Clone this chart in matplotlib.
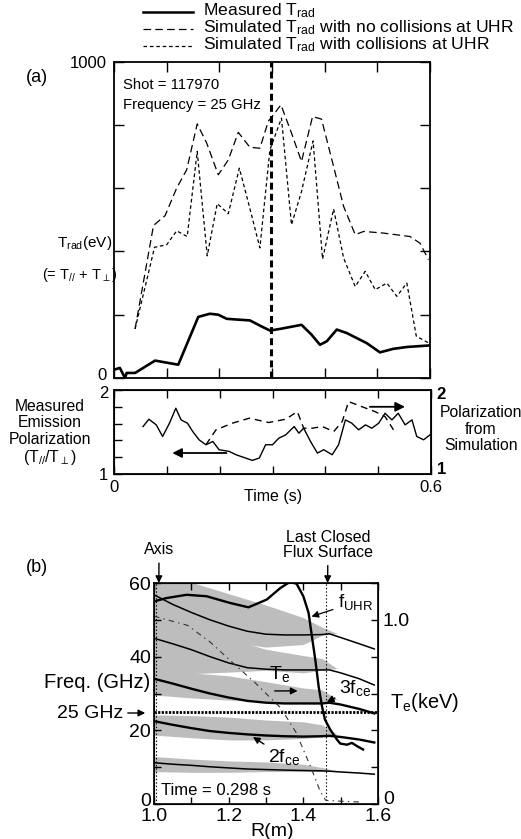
import matplotlib
matplotlib.use('Agg')
import matplotlib.pyplot as plt
import matplotlib.patches as mpatches
import matplotlib.transforms as mtrans
import numpy as np
from matplotlib.lines import Line2D

plt.rcParams['font.family'] = ['Liberation Sans', 'DejaVu Sans']
plt.rcParams['mathtext.fontset'] = 'custom'
plt.rcParams['mathtext.rm'] = 'Liberation Sans'
plt.rcParams['mathtext.it'] = 'Liberation Sans:italic'
plt.rcParams['mathtext.bf'] = 'Liberation Sans:bold'
plt.rcParams['lines.scale_dashes'] = False

# ---------------- data: panel (a) top ----------------
t_meas = [0.0, 0.011, 0.021, 0.024, 0.040, 0.078, 0.122, 0.160, 0.182, 0.198, 0.214,
          0.239, 0.258, 0.280, 0.296, 0.315, 0.356, 0.375, 0.391, 0.404, 0.423, 0.442,
          0.480, 0.505, 0.530, 0.556, 0.600]
trad_meas = [26, 32, 0, 16, 16, 55, 42, 193, 203, 200, 187, 184, 182, 163, 150, 155, 168,
             137, 105, 116, 153, 142, 110, 81, 92, 98, 103]

t_sim = [0.040, 0.075, 0.097, 0.119, 0.138, 0.158, 0.176, 0.198, 0.217, 0.236, 0.258,
         0.277, 0.293, 0.317, 0.337, 0.356, 0.377, 0.394, 0.417, 0.436, 0.458, 0.474,
         0.511, 0.562, 0.581, 0.597]
trad_nocoll = [155, 482, 513, 600, 658, 803, 742, 642, 689, 776, 729, 726, 811, 863, 774,
               684, 826, 818, 668, 542, 453, 463, 458, 447, 426, 374]

t_sim2 = [0.040, 0.077, 0.100, 0.119, 0.139, 0.158, 0.177, 0.196, 0.217, 0.238, 0.257,
          0.277, 0.296, 0.318, 0.337, 0.356, 0.378, 0.396, 0.417, 0.436, 0.458, 0.477,
          0.496, 0.518, 0.537, 0.556, 0.574, 0.597]
trad_coll = [155, 413, 421, 465, 447, 716, 386, 551, 519, 663, 542, 411, 721, 821, 484,
             589, 749, 376, 534, 379, 289, 337, 279, 300, 258, 300, 132, 111]

slice_time = 0.298

# ---------------- data: panel (a) bottom ----------------
t_pol = [0.055, 0.066, 0.080, 0.092, 0.105, 0.117, 0.127, 0.139, 0.149, 0.161, 0.174,
         0.187, 0.199, 0.218, 0.231, 0.249, 0.262, 0.275, 0.287, 0.300, 0.312, 0.325,
         0.341, 0.350, 0.359, 0.372, 0.385, 0.397, 0.413, 0.425, 0.438, 0.450, 0.463,
         0.476, 0.488, 0.501, 0.513, 0.526, 0.538, 0.551, 0.564, 0.573, 0.586, 0.598]
pol_meas = [1.565, 1.652, 1.585, 1.447, 1.605, 1.783, 1.644, 1.605, 1.506, 1.407, 1.348,
            1.387, 1.289, 1.269, 1.229, 1.190, 1.162, 1.190, 1.348, 1.348, 1.427, 1.466,
            1.565, 1.486, 1.545, 1.387, 1.249, 1.289, 1.229, 1.348, 1.644, 1.605, 1.526,
            1.585, 1.545, 1.605, 1.723, 1.644, 1.723, 1.585, 1.644, 1.447, 1.407, 1.466]

t_pol_sim = [0.174, 0.193, 0.224, 0.256, 0.293, 0.325, 0.347, 0.359, 0.375, 0.394, 0.416,
             0.432, 0.444, 0.469, 0.494, 0.513, 0.529]
pol_sim = [1.348, 1.526, 1.605, 1.664, 1.613, 1.652, 1.743, 1.545, 1.545, 1.565, 1.506,
           1.625, 1.862, 1.802, 1.743, 1.684, 1.526]

# ---------------- data: panel (b) ----------------
R_h = [1.0, 1.05, 1.1, 1.15, 1.2, 1.25, 1.3, 1.35, 1.4, 1.45, 1.47, 1.5, 1.55, 1.59]
f_1ce = [11.2, 10.8, 10.5, 10.1, 9.8, 9.5, 9.35, 9.2, 9.1, 9.0, 8.9, 8.7, 8.4, 8.1]
f_2ce = [22.5, 21.5, 20.6, 19.8, 19.3, 18.9, 18.6, 18.4, 18.3, 18.4, 18.5, 18.2, 17.5, 16.7]
f_3ce = [34.0, 32.7, 31.3, 30.0, 28.9, 28.0, 27.5, 27.3, 27.3, 27.3, 27.5, 27.0, 25.8, 24.6]
f_4ce = [45.0, 43.5, 41.9, 40.0, 38.3, 37.0, 36.6, 36.4, 36.4, 36.4, 36.4, 35.6, 34.0, 32.3]
f_5ce = [56.8, 54.2, 52.0, 50.0, 48.3, 46.9, 46.1, 45.9, 45.9, 46.0, 46.2, 45.2, 43.5, 42.1]

R_uhr = [1.0, 1.033, 1.087, 1.141, 1.203, 1.253, 1.302, 1.338, 1.364, 1.382, 1.400, 1.414,
         1.423, 1.432, 1.441, 1.450, 1.458, 1.472, 1.490, 1.499, 1.517, 1.530, 1.544, 1.560]
f_uhr = [55.0, 55.9, 56.8, 56.4, 54.6, 53.4, 55.5, 58.6, 60.3, 59.8, 56.4, 51.9, 45.5, 39.2,
         31.9, 26.5, 22.9, 20.2, 17.5, 16.4, 16.1, 16.6, 15.7, 14.8]

R_te = [1.0, 1.09, 1.15, 1.22, 1.27, 1.34, 1.38, 1.42, 1.445, 1.46, 1.50, 1.56]
Te_keV = [1.02, 0.97, 0.88, 0.75, 0.66, 0.52, 0.39, 0.20, 0.07, 0.02, 0.015, 0.01]

# emission bands (upper / lower edges, GHz)
R_band = [1.0, 1.1, 1.2, 1.3, 1.4, 1.45, 1.49]
band1_hi = [12.9, 12.2, 11.7, 11.4, 10.8, 9.9, 9.0]
band1_lo = [8.8, 8.6, 8.6, 8.8, 8.8, 8.8, 9.0]
band2_hi = [24.2, 24.0, 23.6, 22.8, 22.3, 21.5, 19.0]
band2_lo = [18.7, 18.0, 17.4, 17.4, 17.8, 18.2, 19.0]
band3_hi = [36.5, 35.6, 34.8, 33.2, 31.5, 31.0, 28.5]
band3_lo = [29.6, 28.8, 28.2, 27.8, 27.3, 27.2, 28.5]
band4_hi = [48.0, 46.5, 45.0, 42.0, 40.3, 39.5, 36.8]
band4_lo = [35.5, 35.4, 35.8, 36.3, 35.6, 36.3, 36.8]
band5_hi = [63.0, 60.2, 57.1, 54.0, 50.6, 48.0, 46.3]
band5_lo = [47.0, 45.5, 44.0, 42.6, 43.3, 45.8, 46.3]

axis_R = 1.005
lcfs_R = 1.46
probe_freq = 25.0

# ---------------- figure ----------------
W, H = 521, 839
fig = plt.figure(figsize=(W / 100, H / 100), dpi=100)


def fx(x):
    return x / W


def fy(y):
    return 1 - y / H


def style_ax(ax, lw=1.2, tl=5):
    for s in ax.spines.values():
        s.set_linewidth(lw)
    ax.tick_params(direction='in', length=tl, width=1.0, top=True, right=True,
                   labelsize=11, pad=3)


def nudge(label, dx_px, dy_px):
    label.set_transform(label.get_transform() +
                        mtrans.ScaledTranslation(dx_px / 100, dy_px / 100, fig.dpi_scale_trans))


# ---- panel (a) top
ax1 = fig.add_axes([fx(114), fy(378), (430 - 114) / W, (378 - 61.5) / H])
ax1.plot(t_meas, trad_meas, color='k', lw=1.9)
ax1.plot(t_sim, trad_nocoll, color='k', lw=0.9, dashes=(5.5, 3))
ax1.plot(t_sim2, trad_coll, color='k', lw=0.9, dashes=(2.6, 2))
ax1.axvline(slice_time, color='k', lw=2.2, dashes=(5, 3))
ax1.set_xlim(0, 0.6)
ax1.set_ylim(0, 1000)
ax1.set_xticks(np.arange(0, 0.61, 0.1))
ax1.set_xticklabels([])
ax1.set_yticks(np.arange(0, 1001, 200))
ax1.set_yticklabels(['0', '', '', '', '', '1000'])
style_ax(ax1, lw=1.3, tl=7)
ax1.tick_params(axis='y', labelsize=12, pad=5)
nudge(ax1.get_yticklabels()[0], 0, 4)
ax1.text(0.03, 0.925, 'Shot = 117970', transform=ax1.transAxes, fontsize=10.7, va='center')
ax1.text(0.03, 0.862, 'Frequency = 25 GHz', transform=ax1.transAxes, fontsize=10.7, va='center')

# legend (manual)
leg_y = [12, 29, 46]
leg_styles = [dict(lw=1.8), dict(lw=0.9, dashes=(5.5, 3)), dict(lw=0.9, dashes=(2.6, 2))]
leg_txt = ['Measured T$_{\\mathrm{rad}}$',
           'Simulated T$_{\\mathrm{rad}}$ with no collisions at UHR',
           'Simulated T$_{\\mathrm{rad}}$ with collisions at UHR']
for yy, st, tx in zip(leg_y, leg_styles, leg_txt):
    fig.add_artist(Line2D([fx(143), fx(193)], [fy(yy), fy(yy)], color='k', **st))
    fig.text(fx(203), fy(yy - 1), tx, fontsize=12.6, va='center', ha='left')

fig.text(fx(37), fy(77), '(a)', fontsize=13, ha='center', va='center')
fig.text(fx(85), fy(243), 'T$_{\\mathrm{rad}}$(eV)', fontsize=11, ha='center', va='center')
fig.text(fx(80), fy(275), '(= T$_{//}$ + T$_{\\perp}$)', fontsize=10.5, ha='center', va='center')

# ---- panel (a) bottom
ax2 = fig.add_axes([fx(114), fy(474), (431 - 114) / W, (474 - 390) / H])
ax2.plot(t_pol, pol_meas, color='k', lw=1.0)
ax2.plot(t_pol_sim, pol_sim, color='k', lw=1.0, dashes=(5, 3.5))
ax2.set_xlim(0, 0.6)
ax2.set_ylim(1, 2)
ax2.set_xticks(np.arange(0, 0.61, 0.1))
ax2.set_xticklabels(['0', '', '', '', '', '', '0.6'])
ax2.set_yticks(np.arange(1, 2.01, 0.2))
ax2.set_yticklabels(['1', '', '', '', '', '2'])
style_ax(ax2, lw=1.3, tl=6)
ax2.tick_params(axis='y', labelsize=12, pad=4)
ax2.tick_params(axis='x', labelsize=12, pad=4)
nudge(ax2.get_yticklabels()[-1], 0, -2)
ax2r = ax2.twinx()
ax2r.set_ylim(1, 2)
ax2r.set_yticks([1, 2])
ax2r.set_yticklabels(['1', '2'], fontweight='bold')
ax2r.tick_params(direction='in', length=0, labelsize=12, pad=4)
nudge(ax2r.get_yticklabels()[0], 0, 6)
nudge(ax2r.get_yticklabels()[1], 0, -3)
ax2.annotate('', xy=(0.105, 1.25), xytext=(0.218, 1.25),
             arrowprops=dict(arrowstyle='-|>', color='k', lw=1.3, mutation_scale=14))
ax2.annotate('', xy=(0.556, 1.80), xytext=(0.479, 1.80),
             arrowprops=dict(arrowstyle='-|>', color='k', lw=1.3, mutation_scale=14))
fig.text(fx(273), fy(497), 'Time (s)', fontsize=11.5, ha='center', va='center')
fig.text(fx(50), fy(433), 'Measured\nEmission\nPolarization\n(T$_{//}$/T$_{\\perp}$)',
         fontsize=11.3, ha='center', va='center', linespacing=1.1)
fig.text(fx(481), fy(429), 'Polarization\nfrom\nSimulation', fontsize=11.3,
         ha='center', va='center', linespacing=1.15)

# ---- panel (b)
ax3 = fig.add_axes([fx(154), fy(804), (378 - 154) / W, (804 - 583) / H])
gray = '#bdbdbd'
for lo, hi in [(band1_lo, band1_hi), (band2_lo, band2_hi), (band3_lo, band3_hi),
               (band4_lo, band4_hi), (band5_lo, band5_hi)]:
    ax3.fill_between(R_band, lo, hi, color=gray, lw=0, zorder=1)
ax3.plot(R_h, f_1ce, color='k', lw=1.1, zorder=3)
ax3.plot(R_h, f_2ce, color='k', lw=1.7, zorder=3)
ax3.plot(R_h, f_3ce, color='k', lw=1.7, zorder=3)
ax3.plot(R_h, f_4ce, color='k', lw=1.1, zorder=3)
ax3.plot(R_h, f_5ce, color='k', lw=1.1, zorder=3)
ax3.plot(R_uhr, f_uhr, color='k', lw=1.7, zorder=4)
ax3.axvline(axis_R, color='k', lw=0.8, dashes=(1, 1.5), zorder=2)
ax3.axvline(lcfs_R, color='k', lw=0.8, dashes=(1, 1.5), zorder=2)
ax3.axhline(probe_freq, color='k', lw=2.0, dashes=(1.6, 1.0), zorder=5)
ax3.set_xlim(1.0, 1.6)
ax3.set_ylim(0, 60)
ax3.set_xticks(np.arange(1.0, 1.61, 0.1))
ax3.set_xticklabels(['1.0', '', '1.2', '', '1.4', '', '1.6'])
ax3.set_yticks(np.arange(0, 61, 10))
ax3.set_yticklabels(['0', '', '20', '', '40', '', '60'])
style_ax(ax3, lw=1.2, tl=5)
ax3.tick_params(labelsize=14)
ax3.tick_params(axis='x', pad=3)
ax3.tick_params(axis='y', pad=2)
ax3.tick_params(right=False)
nudge(ax3.get_yticklabels()[0], 0, 5)
ax3r = ax3.twinx()
ax3r.set_ylim(0, 1.2)
ax3r.plot(R_te, Te_keV, color='#333333', lw=0.8, dashes=(4, 3, 1, 3), zorder=2)
ax3r.set_yticks(np.arange(0, 1.21, 0.2))
ax3r.set_yticklabels(['0', '', '', '', '', '1.0', ''])
ax3r.tick_params(direction='in', length=5, width=1.0, labelsize=14, pad=3)
nudge(ax3r.get_yticklabels()[0], 1, 6)

ax3.text(1.02, 3.8, 'Time = 0.298 s', fontsize=12, ha='left', va='center', zorder=6)
ax3.annotate('f$_{\\mathrm{UHR}}$', xy=(1.422, 50.9), xytext=(fx(356), fy(602)),
             textcoords='figure fraction', fontsize=13.5, ha='center', va='center',
             arrowprops=dict(arrowstyle='-|>', color='k', lw=0.9, mutation_scale=10,
                             shrinkA=2, shrinkB=0), annotation_clip=False, zorder=6)
ax3.text(1.335, 35.3, 'T$_{\\mathrm{e}}$', fontsize=14, ha='center', va='center', zorder=6)
ax3.annotate('', xy=(1.392, 30.7), xytext=(1.316, 30.7),
             arrowprops=dict(arrowstyle='-|>', color='k', lw=1.0, mutation_scale=10), zorder=6)
ax3.annotate('3f$_{\\mathrm{ce}}$', xy=(1.463, 27.7), xytext=(fx(355), fy(688)),
             textcoords='figure fraction', fontsize=14, ha='center', va='center',
             arrowprops=dict(arrowstyle='-|>', color='k', lw=1.0, mutation_scale=10,
                             shrinkA=1, shrinkB=0), annotation_clip=False, zorder=6)
ax3.annotate('2f$_{\\mathrm{ce}}$', xy=(1.265, 18.2), xytext=(fx(284), fy(757)),
             textcoords='figure fraction', fontsize=14, ha='center', va='center',
             arrowprops=dict(arrowstyle='-|>', color='k', lw=1.0, mutation_scale=10,
                             shrinkA=1, shrinkB=0), annotation_clip=False, zorder=6)
ax3.annotate('Axis', xy=(1.013, 60), xytext=(fx(159), fy(550)),
             textcoords='figure fraction', fontsize=11.5, ha='center', va='center',
             arrowprops=dict(arrowstyle='-|>', color='k', lw=1.0, mutation_scale=10,
                             shrinkA=2, shrinkB=0), annotation_clip=False)
ax3.annotate('Last Closed\nFlux Surface', xy=(1.465, 60), xytext=(fx(328), fy(545)),
             textcoords='figure fraction', fontsize=11.5, ha='center', va='center',
             linespacing=1.0,
             arrowprops=dict(arrowstyle='-|>', color='k', lw=1.0, mutation_scale=10,
                             shrinkA=2, shrinkB=0), annotation_clip=False)
fig.text(fx(37), fy(567), '(b)', fontsize=13, ha='center', va='center')
fig.text(fx(150), fy(682), 'Freq. (GHz)', fontsize=14.5, ha='right', va='center')
fig.text(fx(123), fy(713), '25 GHz', fontsize=14, ha='right', va='center')
fig.add_artist(mpatches.FancyArrowPatch((fx(125), fy(713)), (fx(148), fy(713)),
               transform=fig.transFigure, arrowstyle='-|>', mutation_scale=10,
               color='k', lw=1.0))
fig.text(fx(390), fy(702), 'T$_{\\mathrm{e}}$(keV)', fontsize=14.3, ha='left', va='center')
fig.text(fx(272), fy(832), 'R(m)', fontsize=14, ha='center', va='center')

fig.savefig('out.png', dpi=100)
